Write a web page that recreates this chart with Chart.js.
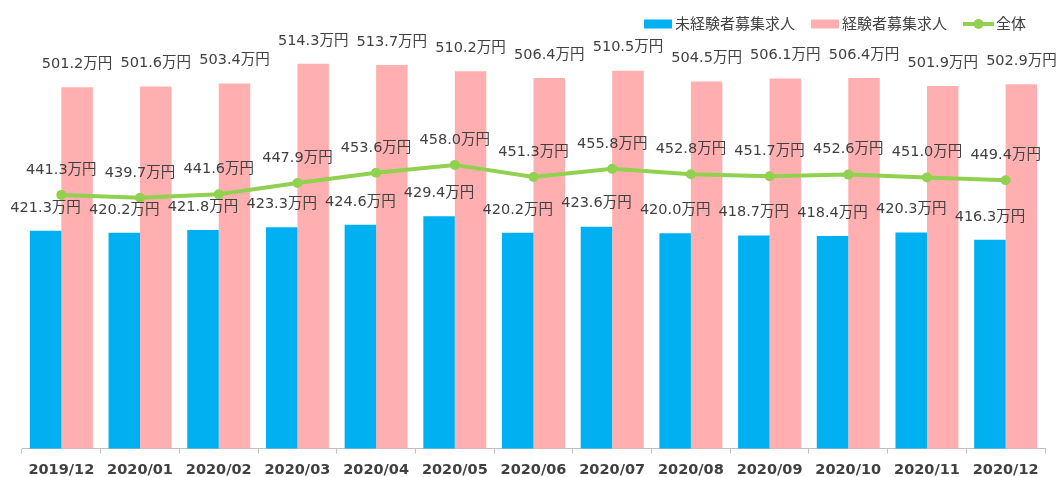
<!DOCTYPE html>
<html>
<head>
<meta charset="utf-8">
<script src="https://cdn.jsdelivr.net/npm/chart.js@4"></script>
<style>
  html, body { margin: 0; padding: 0; background: #fff; }
  canvas { display: block; }
</style>
</head>
<body>
<canvas id="chart" width="1059" height="477"></canvas>
<script>
const months = ['2019/12', '2020/01', '2020/02', '2020/03', '2020/04', '2020/05', '2020/06',
  '2020/07', '2020/08', '2020/09', '2020/10', '2020/11', '2020/12'];
const inexperienced = [421.3, 420.2, 421.8, 423.3, 424.6, 429.4, 420.2, 423.6, 420.0, 418.7, 418.4, 420.3, 416.3];
const experienced = [501.2, 501.6, 503.4, 514.3, 513.7, 510.2, 506.4, 510.5, 504.5, 506.1, 506.4, 501.9, 502.9];
const overall = [441.3, 439.7, 441.6, 447.9, 453.6, 458.0, 451.3, 455.8, 452.8, 451.7, 452.6, 451.0, 449.4];
const seriesNames = ['未経験者募集求人', '経験者募集求人', '全体'];

const BLUE = '#00b0f0';
const PINK = '#ffafaf';
const GREEN = '#92d050';
const TEXT = '#404040';
const FONT = '"DejaVu Sans", "Noto Sans CJK JP", sans-serif';

const ctx = document.getElementById('chart').getContext('2d');

// value labels above bars and points
const valueLabels = {
  id: 'valueLabels',
  afterDatasetsDraw(chart) {
    const c = chart.ctx;
    c.save();
    c.font = '14.5px ' + FONT;
    c.fillStyle = TEXT;
    c.textAlign = 'center';
    c.textBaseline = 'middle';
    chart.data.datasets.forEach((ds, i) => {
      const meta = chart.getDatasetMeta(i);
      const lift = ds.type === 'line' ? 25 : 23;
      meta.data.forEach((el, j) => {
        c.fillText(ds.data[j].toFixed(1) + '万円', el.x, el.y - lift);
      });
    });
    c.restore();
  }
};

// legend drawn by hand so the spacing matches
const legendTop = {
  id: 'legendTop',
  afterDraw(chart) {
    const c = chart.ctx;
    const cy = 24;
    let x = 644;
    c.save();
    c.font = '15px ' + FONT;
    c.textBaseline = 'middle';
    c.textAlign = 'left';
    seriesNames.forEach((name, i) => {
      if (i < 2) {
        c.fillStyle = i === 0 ? BLUE : PINK;
        c.fillRect(x, cy - 4.5, 28, 9);
        x += 31;
      } else {
        c.strokeStyle = GREEN;
        c.lineWidth = 4;
        c.beginPath();
        c.moveTo(x, cy);
        c.lineTo(x + 31, cy);
        c.stroke();
        c.fillStyle = GREEN;
        c.beginPath();
        c.arc(x + 15.5, cy, 5, 0, Math.PI * 2);
        c.fill();
        x += 33;
      }
      c.fillStyle = TEXT;
      c.fillText(name, x, cy + 1);
      x += c.measureText(name).width + 16;
    });
    c.restore();
  }
};

new Chart(ctx, {
  data: {
    labels: months,
    datasets: [
      {
        type: 'line',
        label: seriesNames[2],
        data: overall,
        borderColor: GREEN,
        backgroundColor: GREEN,
        borderWidth: 4,
        pointRadius: 5,
        pointBackgroundColor: GREEN,
        pointBorderWidth: 0,
        tension: 0,
        order: 0
      },
      {
        type: 'bar',
        label: seriesNames[0],
        data: inexperienced,
        backgroundColor: BLUE,
        categoryPercentage: 0.8,
        barPercentage: 1.0,
        order: 1
      },
      {
        type: 'bar',
        label: seriesNames[1],
        data: experienced,
        backgroundColor: PINK,
        categoryPercentage: 0.8,
        barPercentage: 1.0,
        order: 1
      }
    ]
  },
  options: {
    responsive: false,
    animation: false,
    devicePixelRatio: 1,
    layout: { padding: { top: 41, left: 22, right: 14, bottom: -10 } },
    scales: {
      x: {
        grid: { display: true, drawOnChartArea: false, tickLength: 5, color: '#bfbfbf', offset: true },
        border: { color: '#bfbfbf' },
        ticks: { color: TEXT, padding: 8, font: { family: FONT, size: 14.5, weight: 'bold' } }
      },
      y: {
        display: false,
        min: 300,
        max: 527
      }
    },
    plugins: {
      legend: { display: false },
      tooltip: { enabled: false }
    }
  },
  plugins: [valueLabels, legendTop]
});
</script>
</body>
</html>
